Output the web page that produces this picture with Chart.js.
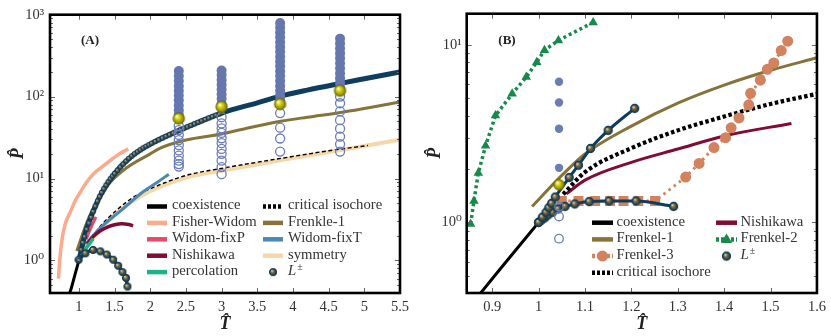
<!DOCTYPE html>
<html><head><meta charset="utf-8">
<script src="https://cdn.jsdelivr.net/npm/chart.js@4.4.1/dist/chart.umd.min.js"></script>
<style>
html,body{margin:0;padding:0;background:#fff;}
#wrap{position:relative;width:831px;height:336px;overflow:hidden;background:#fff;}
#cA{position:absolute;left:0;top:0;width:415px;height:336px;}
#cB{position:absolute;left:415px;top:0;width:416px;height:336px;}
</style></head><body>
<div id="wrap"><canvas id="cA" width="415" height="336"></canvas><canvas id="cB" width="416" height="336"></canvas></div>
<script>
const FONT = "'Liberation Serif','DejaVu Serif',serif";
const SUP = {'0':'\u2070','1':'\u00B9','2':'\u00B2','3':'\u00B3'};

// ---------------- Panel A data ----------------
const xTicksA = [1,1.5,2,2.5,3,3.5,4,4.5,5,5.5];
const yTicksA = [1,10,100,1000];
const coexA_T = [0.872,0.897,0.946,1.0];
const coexA_P = [0.4,0.47,0.675,1.0];
const fwT = [0.713,0.725,0.74,0.76,0.785,0.82,0.88,0.95,1.02,1.1,1.2,1.32,1.44,1.56,1.69];
const fwP = [0.6,0.85,1.2,1.7,2.3,3.0,3.9,5.4,6.8,8.8,11.3,13.8,16.6,19.8,23];
const wpT = [1.1,1.15,1.2,1.24];
const wpP = [1.8,2.3,2.9,3.4];
const nishA_T = [1.12,1.2,1.3,1.4,1.5,1.6,1.7,1.76];
const nishA_P = [1.6,1.95,2.3,2.55,2.72,2.8,2.74,2.65];
const percT = [1.04,1.1,1.15,1.2];
const percP = [1.15,1.4,1.6,1.85];
const isoA_T = [1.0,1.25,1.5,1.8,2.0,2.5,3.0,3.5,4.0,4.5,5.05];
const isoA_P = [1.0,2.3,3.9,6.2,7.5,10.9,13.3,15.8,18.6,21.8,25.3];
const fr1A_T = [0.97,1.09,1.2,1.3,1.44,1.67,2.0,2.14,2.5,3.0,3.4,3.83,4.2,4.67,5.1,5.5];
const fr1A_P = [1.3,2.6,4.3,6.2,9.0,13.5,20,23.5,29.5,35,42,50,56,64,74,86];
const wtT = [1.1,1.3,1.58,1.9,2.1,2.26];
const wtP = [1.6,2.5,4.0,6.9,9.0,11.3];
const symT = [1.05,1.25,1.5,1.7,2.0,2.5,3.0,3.5,4.0,4.5,5.0,5.5];
const symP = [1.35,2.1,3.6,4.9,7.0,10.2,12.5,14.8,17.8,21,25,29.8];
const lplusLineT = [1.0,1.1,1.2,1.3,1.5,1.75,2.0,2.5,3.0,3.5,3.8,4.2,4.65,5.0,5.5];
const lplusLineP = [1.0,2.3,3.95,6.2,11.5,19,26.3,42,63,84,100,120,144,165,200];
const lupA_T = [1.00,1.03,1.055,1.08,1.11,1.14,1.17,1.2,1.23,1.26,1.29,1.32,1.35,1.38,1.41,1.44,1.47,1.50,1.54,1.58,1.62,1.66,1.70,1.74,1.78,1.82,1.86,1.90,1.94,1.98,2.02,2.07,2.12,2.17,2.22,2.27,2.32,2.37,2.42,2.47,2.52,2.57,2.62,2.67,2.72,2.77,2.82,2.87,2.92,2.97,3.02];
const lupA_P = [1.00,1.35,1.65,1.95,2.4,2.85,3.35,3.95,4.6,5.3,6.0,6.75,7.5,8.3,9.1,9.9,10.7,11.5,12.6,13.8,15.0,16.3,17.6,18.8,20.0,21.2,22.4,23.6,24.7,25.8,26.9,28.3,29.7,31.2,32.7,34.2,35.8,37.5,39.2,41.0,42.8,44.6,46.5,48.5,50.5,52.6,54.8,57.0,59.3,61.6,64.0];
const llowA_T = [0.995,1.09,1.197,1.30,1.39,1.48,1.55,1.61,1.66,1.68];
const llowA_P = [1.02,1.22,1.34,1.29,1.18,1.02,0.86,0.72,0.61,0.48];
const colA_T = [2.4,3.0,3.82,4.66];
const yellowA_P = [54,75,81,118];
const blueA_P = [
  [60,68,78,90,103,118,135,155,178,205],
  [82,94,107,122,140,160,183,208],
  [90,103,118,135,155,178,204,234,268,307,352,403,462,530,607,695,790],
  [128,147,168,193,222,255,293,337,387,445,510]
];
const openA_P = [
  [44,39,34,29.5,25.5,22,19,16.5,15,14],
  [56,47,41,36,31,27,23,20,16.5,13.8,11.3],
  [63,41.7,30.8,21.3],
  [100,83,66,51.5,40.6,32.5,26.3,21.3]
];

// ---------------- Panel B data ----------------
const xTicksB = [0.9,1,1.1,1.2,1.3,1.4,1.5,1.6];
const yTicksB = [1,10];
const coexB_T = [0.875,0.897,0.946,1.0];
const coexB_P = [0.4,0.47,0.675,1.0];
const fr1B_T = [0.986,1.05,1.1,1.2,1.3,1.4,1.5,1.6];
const fr1B_P = [1.23,1.84,2.43,3.49,4.7,5.94,7.2,8.47];
const nishB_T = [1.06,1.1,1.2,1.3,1.4,1.545];
const nishB_P = [1.45,1.73,2.18,2.59,3.07,3.61];
const isoB_T = [1.053,1.1,1.2,1.3,1.4,1.5,1.6];
const isoB_P = [1.44,1.92,2.62,3.3,3.95,4.65,5.3];
const fr2T = [0.8535,0.8606,0.870,0.8857,0.907,0.943,0.9735,0.996,1.0127,1.0427,1.1176];
const fr2P = [0.98,1.32,1.90,2.70,4.0,5.3,6.6,8.0,9.35,10.6,13.4];
const fr3SqT = [1.05,1.086,1.122,1.154,1.183,1.215,1.251];
const fr3SqP = [1.32,1.32,1.32,1.32,1.32,1.32,1.32];
const fr3CiT = [1.317,1.346,1.378,1.403,1.415,1.432,1.453,1.457,1.478,1.493,1.507,1.523,1.537];
const fr3CiP = [1.80,2.15,2.64,3.0,3.41,3.88,4.6,5.34,6.33,7.29,7.91,9.3,10.5];
const lupB_T = [1.0,1.008,1.016,1.022,1.028,1.036,1.066,1.086,1.112,1.15,1.207];
const lupB_P = [1.0,1.07,1.14,1.21,1.28,1.39,1.79,2.1,2.61,3.3,4.39];
const llowB_T = [1.0,1.006,1.013,1.02,1.03,1.042,1.057,1.078,1.109,1.152,1.21,1.291];
const llowB_P = [1.0,1.03,1.06,1.1,1.14,1.19,1.23,1.27,1.31,1.32,1.32,1.23];
const colB_T = 1.044;
const blueB_P = [6.2,4.74,3.37,2.03];
const openB_P = [1.23,1.08,0.81];
const yellowB_P = [1.63];

// ---------------- helpers ----------------
const pts = (xs, ys) => xs.map((x, i) => ({x, y: ys[i]}));
const col = (x, ys) => ys.map(y => ({x, y}));
function sphere(r, c1, c2, c3, edge, ew) {
  const s = Math.ceil(2 * (r + ew)) + 2;
  const cv = document.createElement('canvas'); cv.width = s; cv.height = s;
  const g = cv.getContext('2d'); const c = s / 2;
  const gr = g.createRadialGradient(c - r * 0.35, c - r * 0.4, r * 0.05, c, c, r * 1.05);
  gr.addColorStop(0, c1); gr.addColorStop(0.45, c2); gr.addColorStop(1, c3);
  g.beginPath(); g.arc(c, c, r, 0, Math.PI * 2); g.fillStyle = gr; g.fill();
  if (ew > 0) { g.lineWidth = ew; g.strokeStyle = edge; g.stroke(); }
  return cv;
}
const NAVY = '#0f3d5e';
const dotS = sphere(2.2, '#e0d8b8', '#6e6540', '#3a3420', NAVY, 1.1);
const dotM = sphere(3.4, '#e0d8b8', '#6e6540', '#3a3420', NAVY, 1.3);
const dotL = sphere(3.9, '#e0d8b8', '#6e6540', '#3a3420', NAVY, 1.5);
const yelA = sphere(5.8, '#ffffc0', '#c9c400', '#6f6b00', '#5a5600', 0.6);
const yelB = sphere(5.4, '#ffffc0', '#c9c400', '#6f6b00', '#5a5600', 0.6);

function lineDS(label, data, color, width, extra) {
  return Object.assign({label, data, showLine: true, borderColor: color, backgroundColor: color,
    borderWidth: width, pointRadius: 0, pointHoverRadius: 0, cubicInterpolationMode: 'monotone',
    borderCapStyle: 'butt'}, extra || {});
}
function ptsDS(label, data, style, r, fill, edge, bw, extra) {
  return Object.assign({label, data, showLine: false, pointStyle: style, pointRadius: r, pointHoverRadius: r,
    pointBackgroundColor: fill, backgroundColor: fill, pointBorderColor: edge, borderColor: edge,
    pointBorderWidth: bw}, extra || {});
}
function ordered(list) { const n = list.length; list.forEach((d, i) => d.order = n - i); return list; }

// decoration plugin: inward ticks, frame, legend, panel label
const decor = {
  id: 'decor',
  afterDraw(chart, args, o) {
    const {ctx, chartArea: a, scales: {x, y}} = chart;
    ctx.save();
    ctx.strokeStyle = '#666'; ctx.lineWidth = 1; ctx.beginPath();
    o.xTicks.forEach(v => {
      const px = Math.round(x.getPixelForValue(v)) + 0.5;
      ctx.moveTo(px, a.bottom); ctx.lineTo(px, a.bottom - 5);
      ctx.moveTo(px, a.top); ctx.lineTo(px, a.top + 5);
    });
    const lo = Math.floor(Math.log10(y.min)), hi = Math.ceil(Math.log10(y.max));
    for (let e = lo; e <= hi; e++) for (let m = 1; m < 10; m++) {
      const v = m * Math.pow(10, e);
      if (v < y.min || v > y.max) continue;
      const len = m === 1 ? 5 : 3;
      const py = Math.round(y.getPixelForValue(v)) + 0.5;
      ctx.moveTo(a.left, py); ctx.lineTo(a.left + len, py);
      ctx.moveTo(a.right, py); ctx.lineTo(a.right - len, py);
    }
    ctx.stroke();
    ctx.strokeStyle = '#000'; ctx.lineWidth = 2.6;
    ctx.strokeRect(a.left, a.top, a.right - a.left, a.bottom - a.top);
    // panel label
    ctx.fillStyle = '#222'; ctx.font = 'bold 13px ' + FONT; ctx.textAlign = 'center'; ctx.textBaseline = 'middle';
    ctx.fillText(o.panel, o.panelX, o.panelY);
    // legend
    const L = o.legend; const ds = chart.data.datasets;
    L.cols.forEach(c => {
      c.labels.forEach((lab, i) => {
        const d = ds.find(q => q.label === lab);
        const yy = L.y0 + i * L.dy;
        const x0 = c.x, x1 = c.x + L.hw, xm = (x0 + x1) / 2;
        if (d.legendLine !== false) {
          ctx.beginPath(); ctx.strokeStyle = d.borderColor; ctx.lineWidth = L.lw;
          ctx.setLineDash(d.borderDash && d.borderDash.length ? L.dash : []);
          ctx.moveTo(x0, yy); ctx.lineTo(x1, yy); ctx.stroke(); ctx.setLineDash([]);
        }
        const m = d.legendMarker;
        if (m) {
          if (m instanceof HTMLCanvasElement) ctx.drawImage(m, xm - m.width / 2, yy - m.height / 2);
          else {
            ctx.fillStyle = m.color; ctx.beginPath();
            if (m.style === 'triangle') {
              const r = m.r; ctx.moveTo(xm, yy - r); ctx.lineTo(xm + r * 0.95, yy + r * 0.6); ctx.lineTo(xm - r * 0.95, yy + r * 0.6); ctx.closePath();
            } else ctx.arc(xm, yy, m.r, 0, Math.PI * 2);
            ctx.fill();
          }
        }
        ctx.fillStyle = '#333'; ctx.textAlign = 'left'; ctx.textBaseline = 'middle';
        const tx = c.x + L.hw + L.gap;
        if (lab === 'L\u00B1') {
          ctx.font = 'italic ' + L.fs + 'px ' + FONT; ctx.fillText('L', tx, yy - 1);
          const w = ctx.measureText('L').width;
          ctx.font = (L.fs * 0.68).toFixed(1) + 'px ' + FONT; ctx.fillText('\u00B1', tx + w + 1, yy - 5);
        } else {
          ctx.font = L.fs + 'px ' + FONT; ctx.fillText(lab, tx, yy - 1);
        }
      });
    });
    ctx.restore();
  }
};

function makeOptions(cfg) {
  return {
    responsive: false, animation: false, events: [],
    layout: {padding: {left: 0, top: cfg.top, right: cfg.right, bottom: 0}},
    plugins: {legend: {display: false}, tooltip: {enabled: false}, decor: cfg.decor},
    scales: {
      x: {
        type: 'linear', min: cfg.xMin, max: cfg.xMax,
        grid: {display: false, drawTicks: false}, border: {display: false},
        ticks: {padding: 5, color: '#333', font: {family: FONT, size: 14.5}, autoSkip: false, maxRotation: 0,
          callback: v => String(v)},
        afterBuildTicks: s => { s.ticks = cfg.xTicks.map(v => ({value: v})); },
        afterFit: s => { s.height = 43; },
        title: {display: true, text: 'T\u0302', color: '#222', font: {family: FONT, size: 18, style: 'italic', weight: 'bold'},
          padding: {top: 0, bottom: 1}}
      },
      y: {
        type: 'logarithmic', min: cfg.yMin, max: cfg.yMax,
        grid: {display: false, drawTicks: false}, border: {display: false},
        ticks: {padding: cfg.yPad, color: '#333', font: {family: FONT, size: 14.5}, autoSkip: false,
          callback: v => '10' + SUP[String(Math.round(Math.log10(v)))]},
        afterBuildTicks: s => { s.ticks = cfg.yTicks.map(v => ({value: v})); },
        afterFit: s => { s.width = cfg.yW; },
        title: {display: true, text: 'P\u0302', color: '#222', font: {family: FONT, size: 18, style: 'italic', weight: 'bold'},
          padding: {top: cfg.yTitlePad, bottom: 0}}
      }
    }
  };
}

// ---------------- Chart A ----------------
const dsA = ordered([
  lineDS('symmetry', pts(symT, symP), '#f6d8a8', 4),
  lineDS('critical isochore', pts(isoA_T, isoA_P), '#000000', 1.4, {borderDash: [4, 2.5]}),
  lineDS('Widom-fixT', pts(wtT, wtP), '#4a89b2', 3),
  lineDS('Frenkle-1', pts(fr1A_T, fr1A_P), '#86733a', 3),
  lineDS('Fisher-Widom', pts(fwT, fwP), '#fcaa8c', 3.5),
  lineDS('coexistence', pts(coexA_T, coexA_P), '#000000', 3),
  lineDS('Nishikawa', pts(nishA_T, nishA_P), '#800b33', 3.5),
  lineDS('L+ line', pts(lplusLineT, lplusLineP), NAVY, 5),
  lineDS('Widom-fixP', pts(wpT, wpP), '#e8486a', 3),
  lineDS('percolation', pts(percT, percP), '#1db38a', 3.5),
  lineDS('L\u00B1 lower', pts(llowA_T, llowA_P), NAVY, 3.5, {pointStyle: dotM, pointRadius: 4}),
  ptsDS('L\u00B1', pts(lupA_T, lupA_P), dotS, 3, '#6e6540', NAVY, 0, {legendLine: false, legendMarker: dotM}),
  ptsDS('open A', colA_T.flatMap((t, i) => col(t, openA_P[i])), 'circle', 4.5, 'rgba(0,0,0,0)', '#6a7db8', 1.3),
  ptsDS('filled A', colA_T.flatMap((t, i) => col(t, blueA_P[i])), 'circle', 5, '#6677ad', '#6677ad', 0),
  ptsDS('critical A', pts(colA_T, yellowA_P), yelA, 6, '#c9c400', '#5a5600', 0)
]);
new Chart(document.getElementById('cA'), {
  type: 'scatter',
  data: {datasets: dsA},
  options: makeOptions({
    top: 10, right: 15, xMin: 0.595, xMax: 5.5, yMin: 0.4, yMax: 1000, xTicks: xTicksA, yTicks: yTicksA,
    yW: 50, yPad: 6, yTitlePad: 7.2,
    decor: {
      xTicks: xTicksA, panel: '(A)', panelX: 90, panelY: 41,
      legend: {y0: 206.5, dy: 16.4, hw: 20, gap: 5, lw: 4.5, dash: [3, 2], fs: 14.7,
        cols: [{x: 147, labels: ['coexistence', 'Fisher-Widom', 'Widom-fixP', 'Nishikawa', 'percolation']},
               {x: 263, labels: ['critical isochore', 'Frenkle-1', 'Widom-fixT', 'symmetry', 'L\u00B1']}]}
    }
  }),
  plugins: [decor]
});

// ---------------- Chart B ----------------
const fr3Data = pts(fr3SqT, fr3SqP).concat(pts(fr3CiT, fr3CiP));
const nSq = fr3SqT.length;
const dsB = ordered([
  lineDS('coexistence', pts(coexB_T, coexB_P), '#000000', 3),
  lineDS('Frenkel-1', pts(fr1B_T, fr1B_P), '#86733a', 3),
  lineDS('Nishikawa', pts(nishB_T, nishB_P), '#800b33', 3),
  lineDS('critical isochore', pts(isoB_T, isoB_P), '#000000', 4.2, {borderDash: [3.5, 2.5]}),
  lineDS('Frenkel-3', fr3Data, '#d2825e', 3, {borderDash: [2.5, 4], cubicInterpolationMode: 'default', tension: 0,
    pointStyle: c => c.dataIndex < nSq ? 'rect' : 'circle', pointRadius: c => c.dataIndex < nSq ? 7 : 5.5,
    pointBackgroundColor: '#d2825e', pointBorderWidth: 0, legendMarker: {style: 'circle', r: 5.5, color: '#d2825e'}}),
  lineDS('L\u00B1 low B', pts(llowB_T, llowB_P), NAVY, 3, {pointStyle: dotL, pointRadius: 4}),
  lineDS('L\u00B1', pts(lupB_T, lupB_P), NAVY, 3, {pointStyle: dotL, pointRadius: 4, legendLine: false, legendMarker: dotL}),
  lineDS('Frenkel-2', pts(fr2T, fr2P), '#178a4b', 3.5, {borderDash: [3, 3], cubicInterpolationMode: 'default', tension: 0,
    pointStyle: 'triangle', pointRadius: 5.5, pointBackgroundColor: '#178a4b', pointBorderWidth: 0,
    legendMarker: {style: 'triangle', r: 6, color: '#178a4b'}}),
  ptsDS('filled B', col(colB_T, blueB_P), 'circle', 4.2, '#6b7db5', '#6b7db5', 0),
  ptsDS('open B', col(colB_T, openB_P), 'circle', 4.3, 'rgba(0,0,0,0)', '#6a7db8', 1.3),
  ptsDS('critical B', col(colB_T, yellowB_P), yelB, 6, '#c9c400', '#5a5600', 0)
]);
new Chart(document.getElementById('cB'), {
  type: 'scatter',
  data: {datasets: dsB},
  options: makeOptions({
    top: 9.5, right: 13, xMin: 0.845, xMax: 1.6, yMin: 0.4, yMax: 15, xTicks: xTicksB, yTicks: yTicksB,
    yW: 51.7, yPad: 5, yTitlePad: 9.2,
    decor: {
      xTicks: xTicksB, panel: '(B)', panelX: 92, panelY: 41,
      legend: {y0: 222.7, dy: 16.7, hw: 21, gap: 3.5, lw: 4.5, dash: [3, 2], fs: 14.7,
        cols: [{x: 177, labels: ['coexistence', 'Frenkel-1', 'Frenkel-3', 'critical isochore']},
               {x: 301, labels: ['Nishikawa', 'Frenkel-2', 'L\u00B1']}]}
    }
  }),
  plugins: [decor]
});
</script>
</body></html>
